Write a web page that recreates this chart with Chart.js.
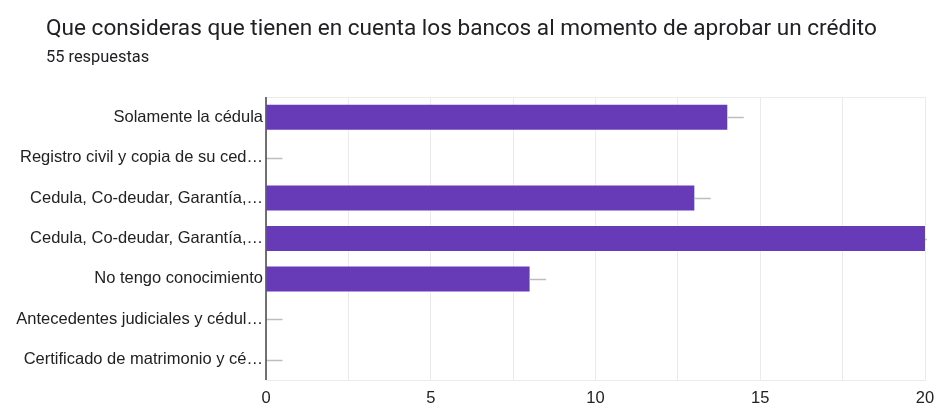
<!DOCTYPE html>
<html>
<head>
<meta charset="utf-8">
<script src="https://cdn.jsdelivr.net/npm/chart.js@4/dist/chart.umd.min.js"></script>
<style>
  html, body { margin: 0; padding: 0; background: #fff; }
  #wrap { position: relative; width: 936px; height: 404px; overflow: hidden; }
  #title { position: absolute; left: 46px; top: 14px; font: 22.6px Roboto, "Liberation Sans", sans-serif; color: #202124; white-space: nowrap; }
  #sub { position: absolute; left: 46px; top: 47px; font: 16.4px Roboto, "Liberation Sans", sans-serif; color: #202124; }
  canvas { position: absolute; left: 0; top: 0; }
</style>
</head>
<body>
<div id="wrap">
  <canvas id="c" width="936" height="404"></canvas>
  <div id="title">Que consideras que tienen en cuenta los bancos al momento de aprobar un crédito</div>
  <div id="sub">55 respuestas</div>
</div>
<script>
// Answer options (as shown, truncated) and response counts
const categories = [
  "Solamente la cédula",
  "Registro civil y copia de su ced…",
  "Cedula, Co-deudar, Garantía,…",
  "Cedula, Co-deudar, Garantía,…",
  "No tengo conocimiento",
  "Antecedentes judiciales y cédul…",
  "Certificado de matrimonio y cé…"
];
const counts = [14, 0, 13, 20, 8, 0, 0];
const axisTicks = [0, 5, 10, 15, 20];
const tailLength = 0.5; // short grey stub drawn past each bar end, in axis units

const tailPlugin = {
  id: 'tails',
  afterDatasetsDraw(chart) {
    const ctx = chart.ctx;
    const xs = chart.scales.x, ys = chart.scales.y;
    const area = chart.chartArea;
    ctx.save();
    // top edge of the plot area
    ctx.strokeStyle = '#ebebeb';
    ctx.lineWidth = 1;
    ctx.beginPath();
    ctx.moveTo(area.left, area.top + 0.5);
    ctx.lineTo(area.right, area.top + 0.5);
    ctx.stroke();
    // grey stub after each bar
    ctx.strokeStyle = '#bdbdbd';
    ctx.lineWidth = 1.5;
    counts.forEach((v, i) => {
      const y = Math.round(ys.getPixelForValue(i)) + 0.5;
      const x0 = xs.getPixelForValue(v);
      const x1 = Math.min(xs.getPixelForValue(v + tailLength), area.right + 2);
      ctx.beginPath();
      ctx.moveTo(x0, y);
      ctx.lineTo(x1, y);
      ctx.stroke();
    });
    // left axis line
    ctx.strokeStyle = '#444';
    ctx.lineWidth = 1.5;
    ctx.beginPath();
    ctx.moveTo(area.left, area.top);
    ctx.lineTo(area.left, area.bottom);
    ctx.stroke();
    ctx.restore();
  }
};

new Chart(document.getElementById('c'), {
  type: 'bar',
  data: {
    labels: categories,
    datasets: [{
      data: counts,
      backgroundColor: '#673ab7',
      borderWidth: 0,
      categoryPercentage: 1,
      barPercentage: 0.62
    }]
  },
  options: {
    indexAxis: 'y',
    responsive: false,
    animation: false,
    layout: { padding: { top: 97, right: 11, left: 0, bottom: 0 } },
    plugins: { legend: { display: false }, tooltip: { enabled: false } },
    scales: {
      x: {
        min: 0, max: 20,
        afterBuildTicks(axis) {
          const t = [];
          for (let v = 0; v <= 20; v += 2.5) t.push({ value: v });
          axis.ticks = t;
        },
        afterFit(axis) {
          axis.height = 24;
          axis.paddingLeft = 0;
          axis.paddingRight = 0;
        },
        grid: { color: '#ebebeb', drawTicks: false, lineWidth: 1 },
        border: { color: '#ebebeb' },
        ticks: {
          padding: 9,
          color: '#222',
          font: { family: '"Liberation Sans", Arial, sans-serif', size: 16.5 },
          callback: (v) => axisTicks.includes(v) ? String(v) : ''
        }
      },
      y: {
        afterFit(axis) { axis.width = 266; },
        grid: { display: false, drawTicks: false },
        border: { display: false },
        ticks: {
          padding: 3,
          color: '#222',
          font: { family: '"Liberation Sans", Arial, sans-serif', size: 16.5 }
        }
      }
    }
  },
  plugins: [tailPlugin]
});
</script>
</body>
</html>
